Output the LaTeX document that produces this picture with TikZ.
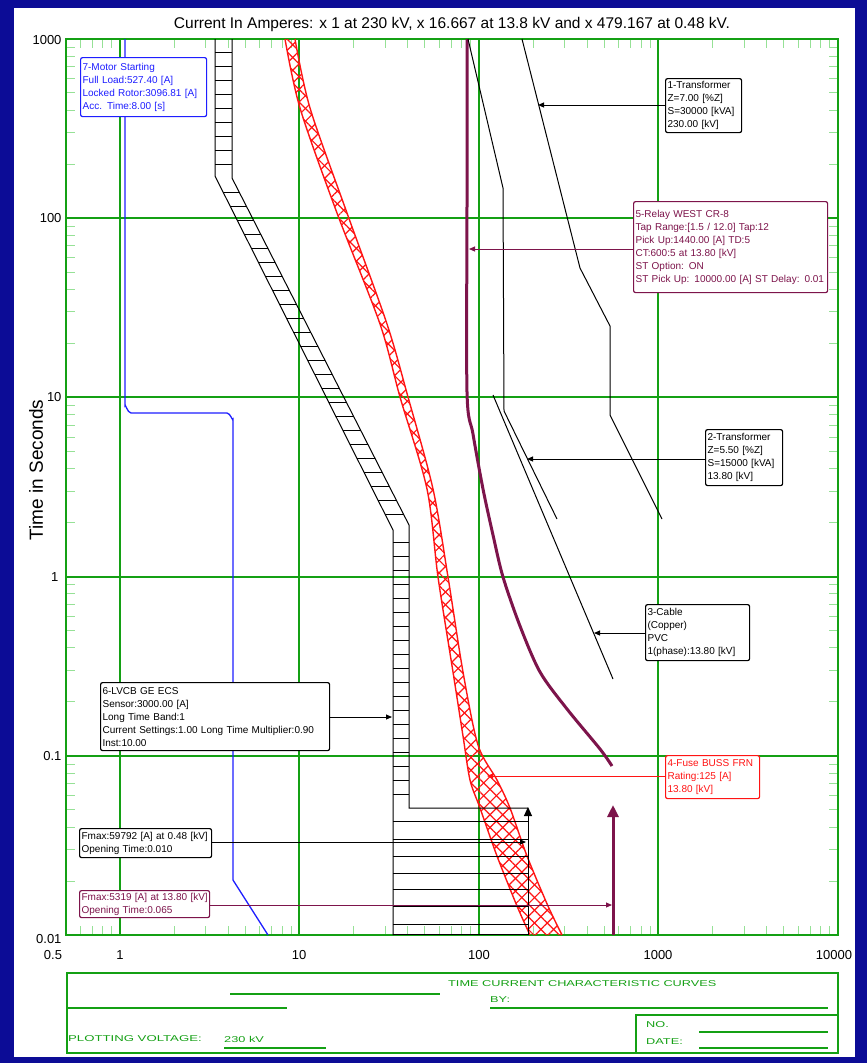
\documentclass[tikz,border=0pt]{standalone}
\usepackage{fontspec}
\setmainfont{Liberation Sans}
\usetikzlibrary{patterns.meta,arrows.meta,calc}
\definecolor{navy}{RGB}{12,12,150}
\definecolor{grgreen}{RGB}{20,160,20}
\definecolor{tickgreen}{RGB}{150,225,150}
\definecolor{maroon}{RGB}{125,20,75}
\definecolor{mblue}{RGB}{30,30,255}
\definecolor{fred}{RGB}{255,20,20}
\begin{document}
\begin{tikzpicture}[x=1pt,y=-1pt,
  grid/.style={draw=grgreen,line width=1.6pt},
  tickmark/.style={draw=tickgreen,line width=1pt},
  blk/.style={draw=black,line width=1pt},
  lbl/.style={draw,rounded corners=2pt,line width=1.2pt,fill=white,anchor=north west,align=left,
    inner sep=2pt,font=\fontsize{10}{13}\selectfont},
  ttl/.style={font=\fontsize{15.5}{16}\selectfont},
  axl/.style={font=\fontsize{13}{13}\selectfont},
  frm/.style={font=\fontsize{8.5}{8.5}\selectfont,text=grgreen,inner sep=0pt,anchor=west},
  lead/.style={line width=1pt,-{Triangle[length=6pt,width=5pt]}}]
\useasboundingbox (0,0) rectangle (867,1063);
\fill[navy] (0,0) rectangle (867,1063);
\fill[white] (14,8) rectangle (855,1057);
% title
\node[ttl] (title) at (452,24) {Current In Amperes: x 1 at 230 kV, x 16.667 at 13.8 kV and x 479.167 at 0.48 kV.};
% minor ticks
\foreach \d in {-1,0,1,2,3}{
  \foreach \k in {2,...,9}{
    \pgfmathsetmacro\xx{120+179.5*(\d+log10(\k))}
    \ifdim\xx pt>67pt
      \draw[tickmark] (\xx,40) -- ++(0,8);
      \draw[tickmark] (\xx,934) -- ++(0,-8);
    \fi
  }
}
\foreach \d in {0,1,2,3,4}{
  \foreach \k in {2,...,9}{
    \pgfmathsetmacro\yy{935-179.2*(\d+log10(\k))}
    \ifdim\yy pt>40pt
      \draw[tickmark] (67,\yy) -- ++(8,0);
      \draw[tickmark] (837,\yy) -- ++(-8,0);
    \fi
  }
}
% grid
\foreach \x in {120,299,479,658} \draw[grid] (\x,39) -- (\x,935);
\foreach \y in {218,397,577,756} \draw[grid] (66,\y) -- (838,\y);
\draw[grid] (66,39) rectangle (838,935);
% axis labels
\node[axl,anchor=east] (y1000) at (65,40) {1000};
\node[axl,anchor=east] (y100) at (65,218) {100};
\node[axl,anchor=east] (y10) at (65,397) {10};
\node[axl,anchor=east] (y1) at (62,577) {1};
\node[axl,anchor=east] (y01) at (65,756) {0.1};
\node[axl,anchor=east] (y001) at (65,939) {0.01};
\node[axl] (x05) at (53,955) {0.5};
\node[axl] (x1) at (120,955) {1};
\node[axl] (x10) at (299,955) {10};
\node[axl] (x100) at (479,955) {100};
\node[axl] (x1000) at (658,955) {1000};
\node[axl] (x10000) at (834,955) {10000};
\node[font=\fontsize{19}{19}\selectfont,rotate=90] (ylab) at (36,470) {Time in Seconds};
% ---- curves ----
\def\fuseL{(285,39) (300,108) (337,213) (380,324) (400,397) (427,489) (438,577) (453,672) (463,736) (470,780) (480,808) (497,856) (517,906) (530,935)}
\def\fuseR{(562,935) (548,906) (527,856) (510,808) (497,780) (478,745) (463,672) (448,577) (433,489) (408,397) (387,324) (347,213) (310,108) (295,39)}
\path[pattern={Lines[angle=45,distance=9pt,line width=1.2pt]},pattern color=fred]
  plot[smooth] coordinates \fuseL -- plot[smooth] coordinates \fuseR -- cycle;
\path[pattern={Lines[angle=-45,distance=9pt,line width=1.2pt]},pattern color=fred]
  plot[smooth] coordinates \fuseL -- plot[smooth] coordinates \fuseR -- cycle;
\draw[fred,line width=1.4pt] plot[smooth] coordinates \fuseL;
\draw[fred,line width=1.4pt] plot[smooth] coordinates \fuseR;
% blue motor
\draw[mblue,line width=1.3pt] (125,39) -- (125,406) to[out=90,in=180] (131,413) -- (227,413) to[out=0,in=-90] (233,419) -- (233,880) -- (268,935);
% black LVCB band
\draw[blk] (215,39) -- (215,176) -- (393,530) -- (393,935);
\draw[blk] (232,39) -- (232,178) -- (409,525) -- (409,808) -- (528,808);
\foreach \y in {52,66,...,164} \draw[blk] (215,\y) -- (232,\y);
\foreach \y in {192,206,...,520} {
  \pgfmathsetmacro\xl{215+(\y-176)*0.50282}
  \pgfmathsetmacro\xr{232+(\y-178)*0.51009}
  \draw[blk] (\xl,\y) -- (\xr,\y);
}
\foreach \y in {542,556,...,800} \draw[blk] (393,\y) -- (409,\y);
\foreach \y in {821,839,856,873,889,906,924,934} \draw[blk] (393,\y) -- (528,\y);
\coordinate (bkbot) at (528,935);
\coordinate (bktop) at (528,807);
\draw[blk,-{Triangle[length=9pt,width=8pt]}] (bkbot) -- (bktop);
% maroon relay
\draw[maroon,line width=3pt] plot[smooth] coordinates {(467,39) (467,200) (467,392) (473,434) (483,489) (493,535) (503,577) (520,626) (540,672) (567,709) (600,749) (612,766)};
\coordinate (mbot) at (613,935);
\coordinate (mtop) at (613,805);
\draw[maroon,line width=3pt,-{Triangle[length=12pt,width=11pt]}] (mbot) -- (mtop);
% black thin curves
\draw[blk] (522,39) -- (580,268) -- (610,326) -- (610,415) -- (662,519);
\draw[blk] (468,39) -- (503,188) -- (504,411) -- (557,519);
\draw[blk] (493,395) -- (613,679);
% ---- label boxes ----
\node[lbl,draw=mblue,text=mblue,text width=122pt,minimum height=59pt] (motor) at (80,57)
 {7-Motor Starting\\Full Load:527.40 [A]\\\mbox{Locked Rotor:3096.81 [A]}\\Acc. Time:8.00 [s]};
\node[lbl,text width=72pt,minimum height=54pt] (tr1) at (665,78)
 {1-Transformer\\Z=7.00 [\%Z]\\S=30000 [kVA]\\230.00 [kV]};
\node[lbl,draw=maroon,text=maroon,text width=190pt,minimum height=91pt] (relay) at (633,201)
 {5-Relay WEST CR-8\\\mbox{Tap Range:[1.5 / 12.0] Tap:12}\\\mbox{Pick Up:1440.00 [A] TD:5}\\CT:600:5 at 13.80 [kV]\\ST Option: ON\\\mbox{ST Pick Up: 10000.00 [A] ST Delay: 0.01}};
\node[lbl,text width=73pt,minimum height=56pt] (tr2) at (705,429)
 {2-Transformer\\Z=5.50 [\%Z]\\\mbox{S=15000 [kVA]}\\13.80 [kV]};
\node[lbl,text width=100pt,minimum height=56pt] (cable) at (645,604)
 {3-Cable\\(Copper)\\PVC\\\mbox{1(phase):13.80 [kV]}};
\node[lbl,text width=225pt,minimum height=68pt] (lvcb) at (100,682)
 {6-LVCB GE ECS\\Sensor:3000.00 [A]\\Long Time Band:1\\\mbox{Current Settings:1.00 Long Time Multiplier:0.90}\\Inst:10.00};
\node[lbl,draw=fred,text=fred,text width=90pt,minimum height=43pt] (fuse) at (665,755)
 {\mbox{4-Fuse BUSS FRN}\\Rating:125 [A]\\13.80 [kV]};
\node[lbl,text width=128pt,minimum height=29pt] (fmax1) at (79,828)
 {\mbox{Fmax:59792 [A] at 0.48 [kV]}\\Opening Time:0.010};
\node[lbl,draw=maroon,text=maroon,text width=126pt,minimum height=27pt] (fmax2) at (79,890)
 {\mbox{Fmax:5319 [A] at 13.80 [kV]}\\Opening Time:0.065};
% leaders
\coordinate (tr1p) at (538,105);
\coordinate (relayp) at (469,249);
\coordinate (tr2p) at (527,459);
\coordinate (cablep) at (594,633);
\coordinate (lvcbp) at (392,717);
\coordinate (fusep) at (487,776);
\coordinate (f1p) at (526,842);
\coordinate (f2p) at (612,905);
\draw[lead] (tr1.west |- tr1p) -- (tr1p);
\draw[lead,maroon] (relay.west |- relayp) -- (relayp);
\draw[lead] (tr2.west |- tr2p) -- (tr2p);
\draw[lead] (cable.west |- cablep) -- (cablep);
\draw[lead] (lvcb.east |- lvcbp) -- (lvcbp);
\draw[lead,fred] (fuse.west |- fusep) -- (fusep);
\draw[lead] (fmax1.east |- f1p) -- (f1p);
\draw[lead,maroon] (fmax2.east |- f2p) -- (f2p);
% ---- bottom frame ----
\draw[grgreen,line width=1.3pt] (67,973) rectangle (838,1053);
\draw[grgreen,line width=1.3pt] (67,1008) -- (287,1008);
\draw[grgreen,line width=1.3pt] (230,994) -- (440,994);
\draw[grgreen,line width=1.3pt] (490,1008) -- (828,1008);
\draw[grgreen,line width=1.3pt] (636,1053) -- (636,1015) -- (838,1015);
\draw[grgreen,line width=1.3pt] (699,1032) -- (828,1032);
\draw[grgreen,line width=1.3pt] (699,1048) -- (828,1048);
\draw[grgreen,line width=1.3pt] (224,1048) -- (326,1048);
\node[frm] (tcc) at (448,984) {\scalebox{1.5}[1]{TIME CURRENT CHARACTERISTIC CURVES}};
\node[frm] (by) at (490,1000) {\scalebox{1.5}[1]{BY:}};
\node[frm] (pv) at (68,1039) {\scalebox{1.55}[1]{PLOTTING VOLTAGE:}};
\node[frm] (kv) at (224,1039) {\scalebox{1.5}[1]{230 kV}};
\node[frm] (no) at (646,1025) {\scalebox{1.5}[1]{NO.}};
\node[frm] (date) at (646,1042) {\scalebox{1.5}[1]{DATE:}};
\end{tikzpicture}
\end{document}
